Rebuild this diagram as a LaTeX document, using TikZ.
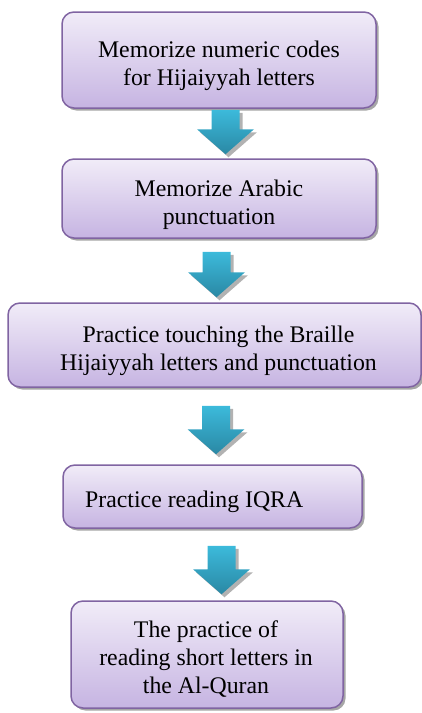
\documentclass[tikz,border=0pt]{standalone}
\usepackage{fontspec}
\setmainfont{Liberation Serif}
\usepackage{tikz}
\usetikzlibrary{calc}
\usetikzlibrary{shadows}

\definecolor{stageline}{HTML}{8064A2}
\definecolor{stagetop}{HTML}{F1ECF8}
\definecolor{stagebottom}{HTML}{C6B4E2}
\definecolor{flowtop}{HTML}{3CBADB}
\definecolor{flowbottom}{HTML}{2A88A4}

% block arrow: from box, to box, x centre, gap below upper box, gap above lower box
\newcommand{\flowarrow}[5]{%
  \path[flowbody] let \p1=(#1.south), \p2=(#2.north) in
    (#3pt-14pt,\y1-#4pt) -- (#3pt+14pt,\y1-#4pt) -- (#3pt+14pt,\y2+#5pt+25pt)
    -- (#3pt+28.5pt,\y2+#5pt+25pt) -- (#3pt,\y2+#5pt)
    -- (#3pt-28.5pt,\y2+#5pt+25pt) -- (#3pt-14pt,\y2+#5pt+25pt) -- cycle;
}

\begin{document}
\begin{tikzpicture}[x=1pt, y=-1pt,
    stage/.style={draw=stageline, line width=1.5pt, rounded corners=12pt,
      top color=stagetop, bottom color=stagebottom,
      drop shadow={shadow xshift=2.5pt, shadow yshift=-2.5pt, fill=black!35, opacity=1}},
    stagetext/.style={font=\fontsize{23.8}{28}\selectfont, align=center, inner sep=0pt},
    flowbody/.style={top color=flowtop, bottom color=flowbottom,
      preaction={fill=black!30, transform canvas={xshift=3pt, yshift=-3pt}}}]
    \useasboundingbox (0,0) rectangle (422,713);

    % Boxes
    \node[stage, minimum width=314pt, minimum height=96pt] (b1) at (219,60) {};
    \node[stage, minimum width=314pt, minimum height=79pt] (b2) at (219,198.5) {};
    \node[stage, minimum width=413pt, minimum height=84pt] (b3) at (214.5,345) {};
    \node[stage, minimum width=299pt, minimum height=63pt] (b4) at (212.5,496.5) {};
    \node[stage, minimum width=272pt, minimum height=107pt] (b5) at (207,654.5) {};

    % Texts
    \node[stagetext] (t1) at (219,65.5) {Memorize numeric codes\\for Hijaiyyah letters};
    \node[stagetext] (t2) at (219,204.5) {Memorize Arabic\\punctuation};
    \node[stagetext] (t3) at (218.5,350.5) {Practice touching the Braille\\Hijaiyyah letters and punctuation};
    \node[stagetext, anchor=base west] (t4) at (85,507) {Practice reading IQRA};
    \node[stagetext] (t5) at (206,659) {The practice of\\reading short letters in\\the Al-Quran};

    % Arrows
    \flowarrow{b1}{b2}{225.5}{1}{4}
    \flowarrow{b2}{b3}{216.5}{13}{5}
    \flowarrow{b3}{b4}{216}{18}{10}
    \flowarrow{b4}{b5}{221.5}{17}{6}
\end{tikzpicture}
\end{document}
